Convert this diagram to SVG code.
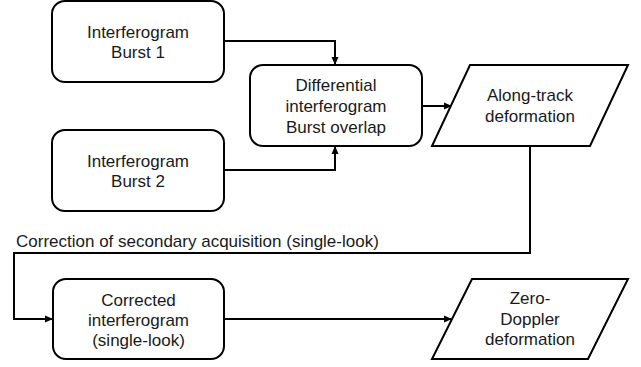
<svg xmlns="http://www.w3.org/2000/svg" width="641" height="367" viewBox="0 0 641 367">
<style>
.n{fill:#fff;stroke:#000;stroke-width:2}
.t{font-family:"Liberation Sans",Arial,sans-serif;font-size:17px;fill:#1a1a1a;text-anchor:middle}
.c{fill:none;stroke:#000;stroke-width:2}
.l{font-family:"Liberation Sans",Arial,sans-serif;font-size:17px;fill:#1a1a1a}
</style>
<defs>
<marker id="a" markerWidth="8" markerHeight="8" refX="7" refY="4" orient="auto" markerUnits="userSpaceOnUse">
<path d="M0,0.5 L8,4 L0,7.5 Z" fill="#000"/>
</marker>
</defs>
<rect width="641" height="367" fill="#fff"/>
<g id="connectors">
<path class="c" d="M224,41 H335 V64" marker-end="url(#a)"/>
<path class="c" d="M224,170 H335 V147" marker-end="url(#a)"/>
<path class="c" d="M422,106 H451" marker-end="url(#a)"/>
<path class="c" d="M530,146 V253 H14 V319 H52" marker-end="url(#a)"/>
<path class="c" d="M224,319 H451" marker-end="url(#a)"/>
<text class="l" x="16" y="247">Correction of secondary acquisition (single-look)</text>
</g>
<g id="burst1">
<rect class="n" x="52" y="1" width="172" height="81" rx="13"/>
<text class="t" x="138" y="38">Interferogram</text>
<text class="t" x="138" y="58">Burst 1</text>
</g>
<g id="burst2">
<rect class="n" x="52" y="130" width="172" height="81" rx="13"/>
<text class="t" x="138" y="167">Interferogram</text>
<text class="t" x="138" y="187">Burst 2</text>
</g>
<g id="differential">
<rect class="n" x="250" y="65" width="172" height="81" rx="13"/>
<text class="t" x="336" y="91">Differential</text>
<text class="t" x="336" y="112">interferogram</text>
<text class="t" x="336" y="133">Burst overlap</text>
</g>
<g id="alongtrack">
<polygon class="n" points="470,65 628,65 590,146 432,146"/>
<text class="t" x="530" y="101">Along-track</text>
<text class="t" x="530" y="122">deformation</text>
</g>
<g id="corrected">
<rect class="n" x="53" y="279" width="171" height="80" rx="13"/>
<text class="t" x="138.5" y="306">Corrected</text>
<text class="t" x="138.5" y="326">interferogram</text>
<text class="t" x="138.5" y="346">(single-look)</text>
</g>
<g id="zerodoppler">
<polygon class="n" points="472,279 628,279 588,359 432,359"/>
<text class="t" x="530" y="304">Zero-</text>
<text class="t" x="530" y="325">Doppler</text>
<text class="t" x="530" y="345">deformation</text>
</g>
</svg>
